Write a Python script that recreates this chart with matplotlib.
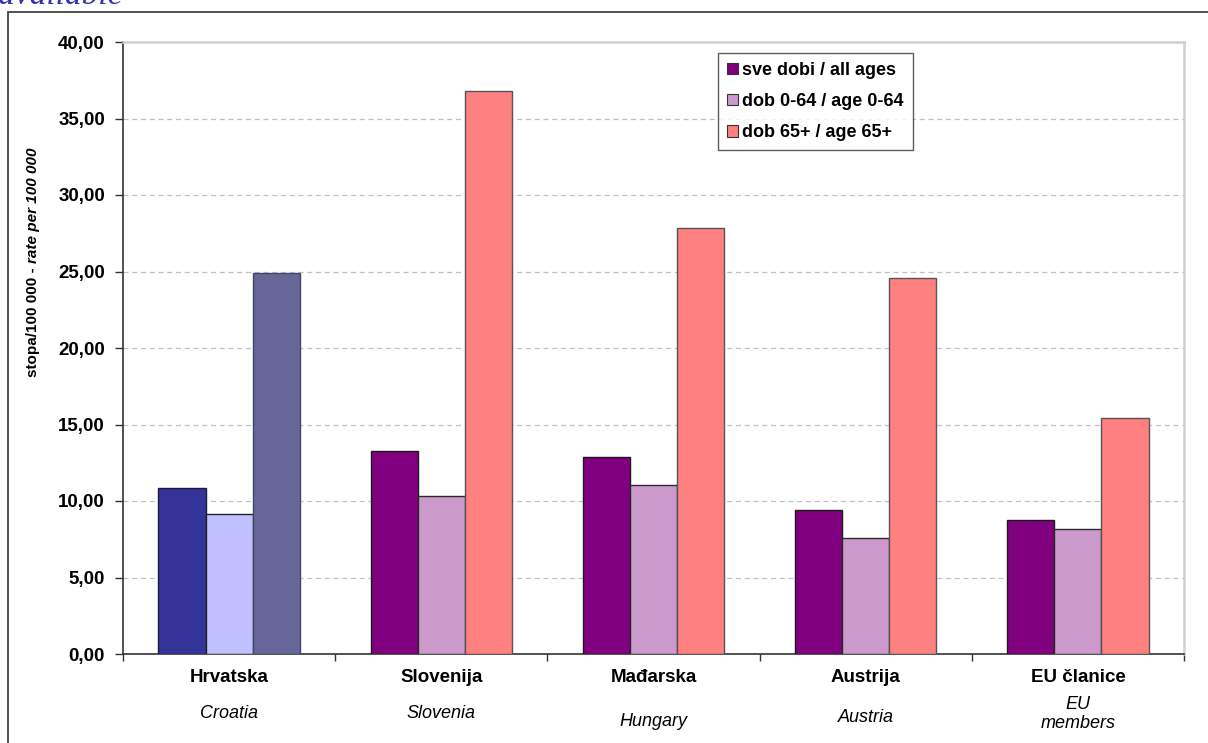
import numpy as np
import matplotlib
matplotlib.use("Agg")
import matplotlib.pyplot as plt
from matplotlib.patches import Rectangle, Patch

plt.rcParams['font.family'] = ['Liberation Sans', 'DejaVu Sans']

# data
countries = ["Hrvatska", "Slovenija", "Mađarska", "Austrija", "EU članice"]
countries_en = ["Croatia", "Slovenia", "Hungary", "Austria", "EU\nmembers"]
series = ["sve dobi / all ages", "dob 0-64 / age 0-64", "dob 65+ / age 65+"]
all_ages = [10.85, 13.25, 12.85, 9.40, 8.75]
age_0_64 = [9.12, 10.32, 11.03, 7.57, 8.15]
age_65 = [24.93, 36.80, 27.86, 24.56, 15.40]
yticks = [0, 5, 10, 15, 20, 25, 30, 35, 40]

W, H = 1208, 743
fig = plt.figure(figsize=(W / 100, H / 100), dpi=100)
ax = fig.add_axes([123 / W, 1 - 654 / H, (1184 - 123) / W, (654 - 42) / H])

# colours: Croatia points were recoloured in the source chart
cols = [["#333399", "#C0C0FF", "#666699"]] + [["#800080", "#CC99CC", "#FF8080"]] * 4
edges = [["#1a1a40", "#222222", "#44446a"]] + [["#1a1a1a", "#2a2a2a", "#555555"]] * 4

x = np.arange(len(countries))
bw = 0.222
vals = [all_ages, age_0_64, age_65]
for j, v in enumerate(vals):
    ax.bar(x + (j - 1) * bw, v, bw,
           color=[c[j] for c in cols], edgecolor=[e[j] for e in edges],
           linewidth=1.0, zorder=3)

ax.set_xlim(-0.5, len(countries) - 0.5)
ax.set_ylim(0, 40)
ax.set_yticks(yticks)
ax.set_yticklabels([("%.2f" % t).replace(".", ",") for t in yticks],
                   fontsize=13.5, fontweight="bold")
ax.set_xticks(np.arange(len(countries) + 1) - 0.5)
ax.set_xticklabels([])
ax.tick_params(axis="x", direction="out", length=5, width=1, color="#333333")
ax.tick_params(axis="y", direction="out", length=6, width=1, color="#333333", pad=7)

ax.yaxis.grid(True, linestyle=(0, (4, 3)), color="#c0c0c0", linewidth=0.9, zorder=0)
ax.set_axisbelow(True)
for s in ["left", "bottom"]:
    ax.spines[s].set_color("#333333")
    ax.spines[s].set_linewidth(1.2)
for s in ["top", "right"]:
    ax.spines[s].set_color("#d0d0d0")
    ax.spines[s].set_linewidth(1.8)

# category labels
en_y = [713, 713, 722, 718, 714]
for i in range(len(countries)):
    xf = (123 + (i + 0.5) * (1184 - 123) / len(countries)) / W
    fig.text(xf, 1 - 677 / H, countries[i], ha="center", va="center",
             fontsize=13.5, fontweight="bold")
    fig.text(xf, 1 - en_y[i] / H, countries_en[i], ha="center", va="center",
             fontsize=13, style="italic", linespacing=1.2)

# legend
handles = [Patch(facecolor=c, edgecolor="#333333", linewidth=0.8)
           for c in cols[1]]
leg = fig.legend(handles, series, loc="upper left",
                 bbox_to_anchor=(718 / W, 1 - 53 / H),
                 prop={"size": 13, "weight": "bold"},
                 frameon=True, fancybox=False, shadow=False,
                 handlelength=0.6, handleheight=0.6, handletextpad=0.25,
                 labelspacing=0.78, borderpad=0.5, borderaxespad=0)
leg.get_frame().set_edgecolor("#333333")
leg.get_frame().set_linewidth(1.0)

# y label with bold + bold italic parts
t1 = fig.text(33 / W, 1 - 377 / H, "stopa/100 000 - ", rotation=90,
              rotation_mode="anchor", ha="left", va="center",
              fontsize=11, fontweight="bold")
fig.canvas.draw()
bb = t1.get_window_extent()
fig.text(33 / W, bb.y1 / H, "rate per 100 000", rotation=90,
         rotation_mode="anchor", ha="left", va="center",
         fontsize=11, fontweight="bold", style="italic")

# outer chart frame and cut-off caption
fig.patches.append(Rectangle((8 / W, -0.1), 1.2, 1 - 11.5 / H + 0.1,
                             transform=fig.transFigure, fill=False,
                             edgecolor="#333333", linewidth=1.2))
fig.text(-2 / W, 1 - 3.5 / H, "available", ha="left", va="baseline",
         fontsize=24, style="italic", family="Liberation Serif", color="#3333aa")

fig.savefig("out.png", dpi=100)
